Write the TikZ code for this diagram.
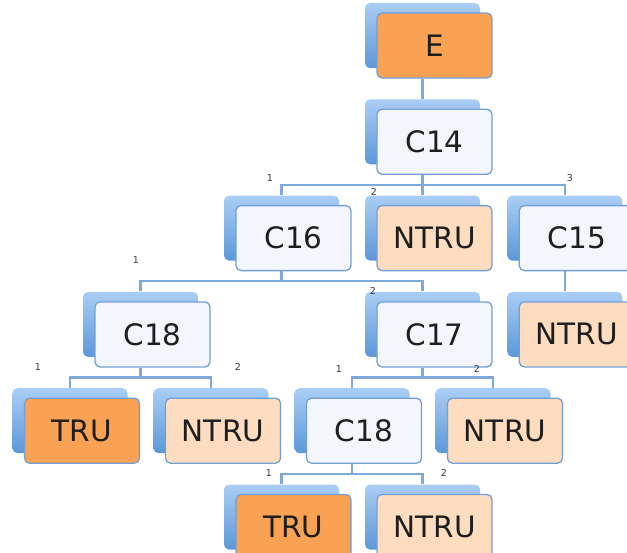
\documentclass[tikz,border=0pt]{standalone}
\usepackage{fontspec}
\setmainfont{DejaVu Sans}
\usepackage{tikz}
\usetikzlibrary{positioning,shadows}
\definecolor{CInk}{HTML}{1E1E1E}
\definecolor{CNum}{HTML}{3A3A3A}
\definecolor{CEdge}{HTML}{729FD6}
\definecolor{CLink}{HTML}{80A9DB}
\definecolor{CPale}{HTML}{F3F7FD}
\definecolor{COrange}{HTML}{FAA253}
\definecolor{CPeach}{HTML}{FDDCBF}
\definecolor{CShadeTop}{HTML}{AACDF5}
\definecolor{CShadeBot}{HTML}{5B98D8}
\begin{document}
\begin{tikzpicture}[x=1pt, y=-1pt, every node/.style={text=CInk},
  cbox/.style={draw=CEdge, line width=1.3pt, fill=CPale, rounded corners=5pt,
               minimum width=115pt, minimum height=65pt, inner sep=0pt,
               font=\fontsize{29.5}{31}\selectfont,
               general shadow={draw=none, shadow xshift=-12pt, shadow yshift=10pt,
                               top color=CShadeTop, bottom color=CShadeBot}},
  tru/.style ={cbox, fill=COrange},
  ntru/.style={cbox, fill=CPeach},
  link/.style={draw=CLink, line width=2.2pt},
  num/.style ={font=\fontsize{9.5}{10}\selectfont, text=CNum, inner sep=0pt}]
\clip (0,0) rectangle (627,552);
\node[tru] (e) at (434.5,45.5) {E};
\node[cbox, below=30pt of e] (c14) {C14};
\node[cbox, below=30pt of c14, xshift=-141pt] (c16)   {C16};
\node[ntru, below=30pt of c14]                (ntru1) {NTRU};
\node[cbox, right=26pt of ntru1]              (c15)   {C15};
\node[cbox, below=30pt of c16, xshift=-141pt] (c18a)  {C18};
\node[cbox, below=30pt of c16, xshift=141pt]  (c17)   {C17};
\node[ntru, below=30pt of c15]                (ntru2) {NTRU};
\node[tru,  below=30pt of c18a, xshift=-70.5pt] (tru1)  {TRU};
\node[ntru, below=30pt of c18a, xshift=70.5pt]  (ntru3) {NTRU};
\node[cbox, below=30pt of c17, xshift=-70.5pt]  (c18b)  {C18};
\node[ntru, below=30pt of c17, xshift=70.5pt]   (ntru4) {NTRU};
\node[tru,  below=30pt of c18b, xshift=-70.5pt] (tru2)  {TRU};
\node[ntru, below=30pt of c18b, xshift=70.5pt]  (ntru5) {NTRU};
\foreach \p/\c in {e/c14, c14/c16, c14/ntru1, c14/c15, c16/c18a, c16/c17, c15/ntru2,
                   c18a/tru1, c18a/ntru3, c17/c18b, c17/ntru4, c18b/tru2, c18b/ntru5}
  {\draw[link] ([xshift=-12pt]\p.south) -- ++(0,10) -| ([xshift=-12pt,yshift=10pt]\c.north);}
% child numbers
\node[num] (n16)  at (270,178) {1};
\node[num] (n1a)  at (374,192) {2};
\node[num] (n15)  at (570,178) {3};
\node[num] (n18a) at (136,260) {1};
\node[num] (n17)  at (373,291) {2};
\node[num] (nt1)  at (38,367)  {1};
\node[num] (nt3)  at (238,367) {2};
\node[num] (n18b) at (339,369) {1};
\node[num] (nt4)  at (477,369) {2};
\node[num] (nt2)  at (269,473) {1};
\node[num] (nt5)  at (444,473) {2};
\end{tikzpicture}
\end{document}
